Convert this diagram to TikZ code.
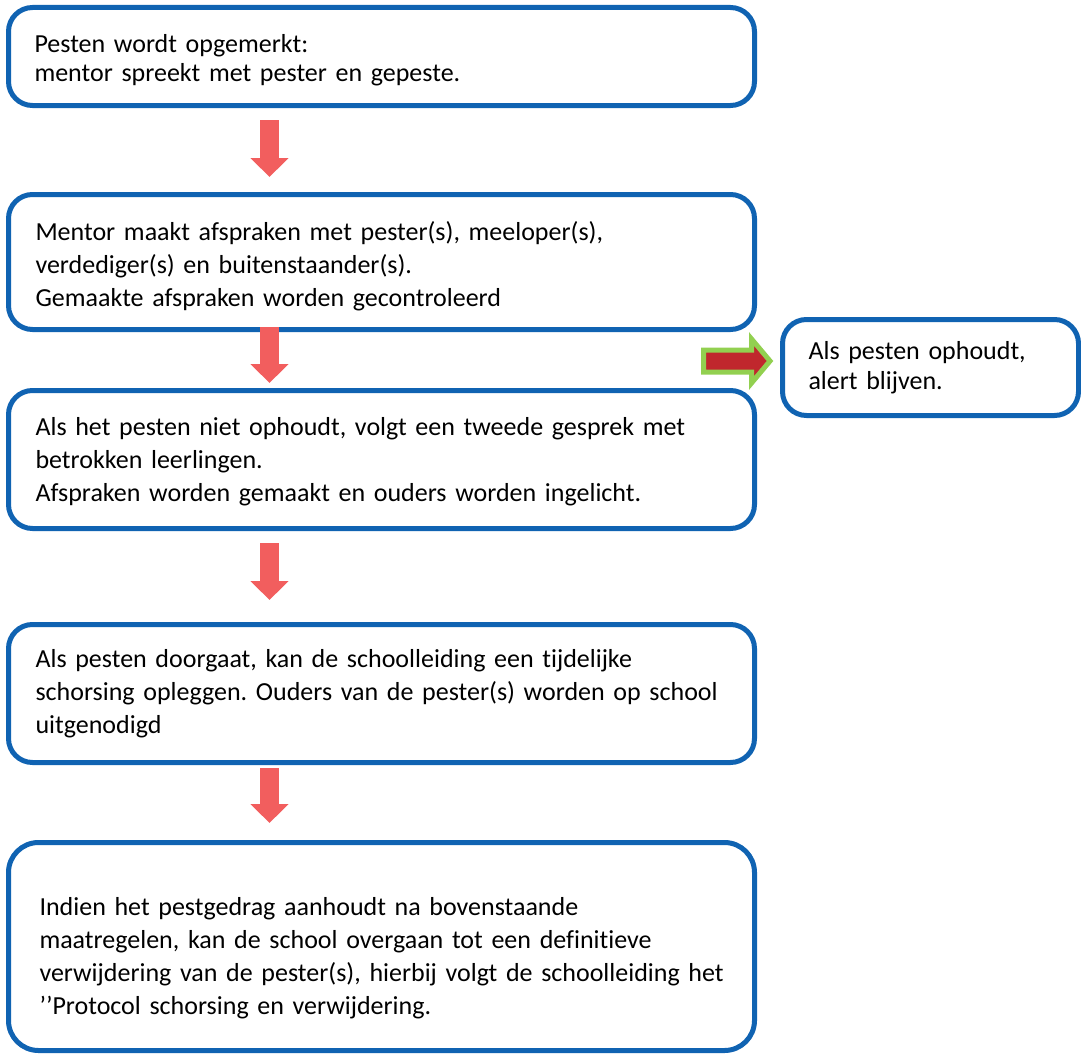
\documentclass[tikz,border=0pt]{standalone}
\usepackage{fontspec}
\setmainfont{Carlito}[Ligatures=CommonOff]
\usetikzlibrary{arrows.meta,shapes.arrows}
\definecolor{boxblue}{RGB}{16,99,178}
\definecolor{arrowred}{RGB}{242,94,94}
\definecolor{lightgreen}{RGB}{146,208,80}
\definecolor{darkred}{RGB}{192,39,45}
\frenchspacing
\newcommand{\zak}[1]{\rule{0pt}{#1}}

\begin{document}
\begin{tikzpicture}[x=1pt,y=-1pt,
        stap/.style={draw=boxblue,line width=5pt,rounded corners=24pt,
            outer sep=0pt,inner xsep=26pt,inner ysep=0pt,minimum width=746pt,
            text width=694pt,align=left,anchor=north west,
            font=\fontsize{26}{33}\selectfont},
        pijl/.style={color=arrowred,line width=19pt,
            -{Triangle[width=37pt,length=19pt]}}]
    \useasboundingbox (0,0) rectangle (1081,1057);

    \node[stap,minimum height=98pt,font=\fontsize{26}{29}\selectfont] (b1) at (8.5,7.5)
        {\zak{25pt}Pesten wordt opgemerkt:\\mentor spreekt met pester en gepeste.};
    \node[stap,minimum height=135pt,inner xsep=27pt,text width=692pt] (b2) at (8.5,194.5)
        {\zak{27pt}Mentor maakt afspraken met pester(s), meeloper(s),\\
         verdediger(s) en buitenstaander(s).\\
         Gemaakte afspraken worden gecontroleerd};
    \node[stap,minimum height=138pt,inner xsep=27pt,text width=692pt] (b3) at (8.5,390.5)
        {\zak{23pt}Als het pesten niet ophoudt, volgt een tweede gesprek met\\
         betrokken leerlingen.\\
         Afspraken worden gemaakt en ouders worden ingelicht.};
    \node[stap,minimum height=138pt,inner xsep=27pt,text width=692pt] (b4) at (8.5,624.5)
        {Als pesten doorgaat, kan de schoolleiding een tijdelijke\\
         schorsing opleggen. Ouders van de pester(s) worden op school\\
         uitgenodigd};
    \node[stap,minimum height=208pt,rounded corners=30pt,inner xsep=31pt,text width=684pt] (b5) at (8.5,842.5)
        {\zak{41pt}Indien het pestgedrag aanhoudt na bovenstaande\\
         maatregelen, kan de school overgaan tot een definitieve\\
         \mbox{verwijdering van de pester(s), hierbij volgt de schoolleiding het}\\
         ’’Protocol schorsing en verwijdering.};
    \node[stap,minimum width=296pt,text width=244pt,minimum height=96pt,
        font=\fontsize{26}{30}\selectfont] (alert) at (782.5,319.5)
        {Als pesten ophoudt,\\alert blijven.};

    \coordinate (kol) at (269.5,0);
    \draw[pijl,shorten <=14.5pt,shorten >=17.5pt] (b1.south -| kol) -- (b2.north -| kol);
    \draw[pijl,shorten <=-2.5pt,shorten >=7.5pt] (b2.south -| kol) -- (b3.north -| kol);
    \draw[pijl,shorten <=14.5pt,shorten >=24.5pt] (b3.south -| kol) -- (b4.north -| kol);
    \draw[pijl,shorten <=5.5pt,shorten >=19.5pt] (b4.south -| kol) -- (b5.north -| kol);

    \node[single arrow,draw=lightgreen,fill=darkred,line width=5pt,
        minimum height=66.5pt,single arrow head extend=11pt,
        single arrow tip angle=100,inner xsep=0pt,inner ysep=8.5pt,outer sep=0pt,anchor=tail]
        (groen) at (703.5,361) {};
\end{tikzpicture}
\end{document}
